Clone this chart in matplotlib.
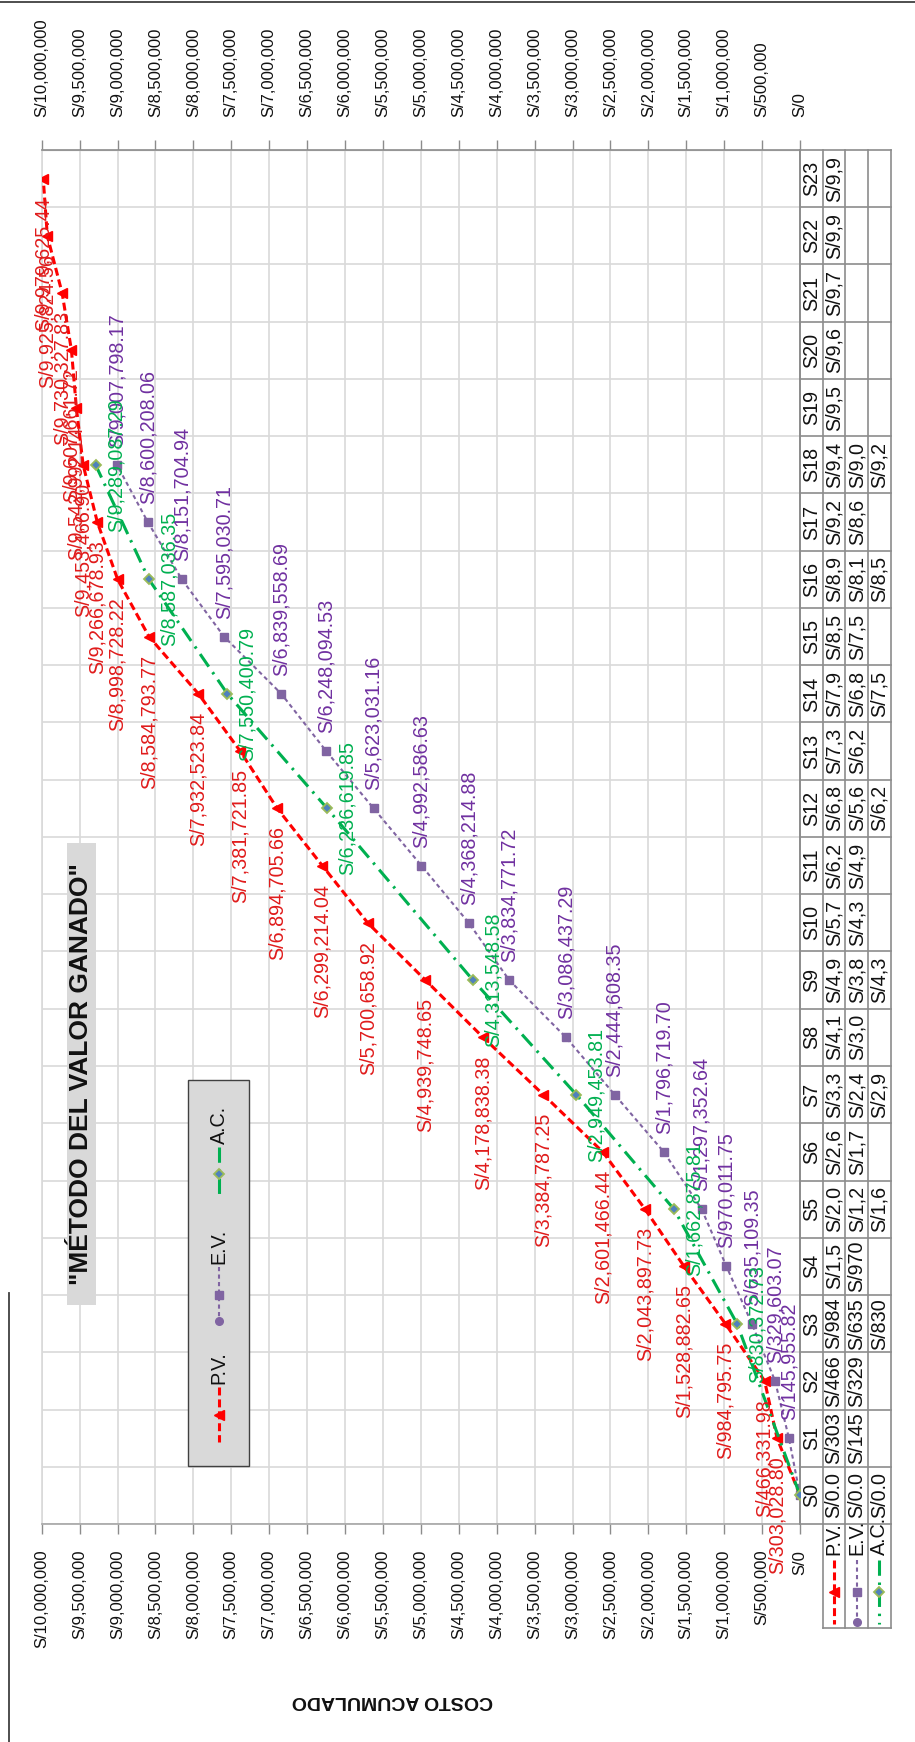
import numpy as np
import matplotlib
matplotlib.use("Agg")
import matplotlib.pyplot as plt
import matplotlib.transforms as mtransforms
from matplotlib.patches import Rectangle
from matplotlib.lines import Line2D

plt.rcParams['font.family'] = ['Liberation Sans', 'DejaVu Sans']

# ---------------------------------------------------------------- data
weeks = [f"S{i}" for i in range(24)]
pv = [0.00, 303028.80, 466331.98, 984795.75, 1528882.65, 2043897.73,
      2601466.44, 3384787.25, 4178838.38, 4939748.65, 5700658.92,
      6299214.04, 6894705.66, 7381721.85, 7932523.84, 8584793.77,
      8998728.22, 9266678.93, 9453466.90, 9542992.14, 9607661.72,
      9730327.83, 9925824.56, 9979625.44]
ev = [0.00, 145955.82, 329603.07, 635109.35, 970011.75, 1297352.64,
      1796719.70, 2444608.35, 3086437.29, 3834771.72, 4368214.88,
      4992586.63, 5623031.16, 6248094.53, 6839558.69, 7595030.71,
      8151704.94, 8600208.06, 9007798.17]
ac_weeks = [0, 3, 5, 7, 9, 12, 14, 16, 18]
ac = [0.00, 830372.73, 1662875.81, 2949453.81, 4313548.58, 6236619.85,
      7550400.79, 8587036.35, 9289087.29]
series_names = ["P.V.", "E.V.", "A.C."]
value_ticks = list(range(0, 10_000_001, 500_000))
value_labels = [f"S/{v:,.0f}" for v in value_ticks]
axis_title = "COSTO ACUMULADO"
chart_title = '"MÉTODO DEL VALOR GANADO"'

# ---------------------------------------------------------------- styles
W, H, DPI = 915, 1742, 100
PV_C, EV_C, AC_C = "#ff0000", "#8064a2", "#00b050"
PV_T, EV_T, AC_T = "#e01b1b", "#7030a0", "#00b050"
FS = 14.2          # data labels, table, legend
FS_TICK = 12.0     # value axis labels
GRID = "#d9d9d9"
TABLE = "#8c8c8c"

pv_style = dict(color=PV_C, lw=2.2, dashes=(2.6, 1.3), marker="<", ms=6.5,
                mfc=PV_C, mec=PV_C)
ev_style = dict(color=EV_C, lw=1.5, dashes=(2.0, 1.6), marker="s", ms=5.5,
                mfc=EV_C, mec=EV_C)
ac_style = dict(color=AC_C, lw=2.2, dashes=(5.0, 2.2, 0.8, 2.2), marker="D",
                ms=5.2, mfc="#4f81bd", mec="#9bbb59", mew=1.3)


def fx(x):
    return x / W


def fy(y):
    return 1 - y / H


fig = plt.figure(figsize=(W / DPI, H / DPI), dpi=DPI)

# plot area in pixel units (values run right-to-left, weeks bottom-to-top)
L, R, T, B = 41.7, 800.0, 150.0, 1524.0
ax = fig.add_axes([fx(L), fy(B), (R - L) / W, (B - T) / H])
ax.set_xlim(10_000_000, 0)
ax.set_ylim(-0.5, len(weeks) - 0.5)
ax.set_axisbelow(True)

# value gridlines + category band lines
ax.set_xticks(value_ticks)
ax.set_xticklabels(value_labels, rotation=90)
ax.grid(axis="x", which="major", color=GRID, lw=1.2)
ax.set_yticks(np.arange(-0.5, len(weeks), 1.0), minor=True)
ax.set_yticks([])
ax.grid(axis="y", which="minor", color=GRID, lw=1.2)
ax.tick_params(axis="y", which="both", length=0, labelleft=False)
ax.tick_params(axis="x", which="major", length=7, width=1, color="#8c8c8c",
               pad=11.5, labelsize=FS_TICK, labelcolor="#111111")

sec = ax.secondary_xaxis("top")
sec.set_xticks(value_ticks)
sec.set_xticklabels(value_labels, rotation=90)
sec.tick_params(axis="x", length=7, width=1, color="#8c8c8c", pad=16.5,
                labelsize=FS_TICK, labelcolor="#111111")
sec.spines["top"].set_color("#8c8c8c")

for side, col in [("top", "#8c8c8c"), ("bottom", "#a6a6a6"),
                  ("left", GRID), ("right", TABLE)]:
    ax.spines[side].set_color(col)
    ax.spines[side].set_linewidth(1.2)

# ---------------------------------------------------------------- series
ax.plot(pv, range(len(pv)), zorder=4, **pv_style)
ax.plot(ev, range(len(ev)), zorder=4, **ev_style)
ax.plot(ac, ac_weeks, zorder=5, **ac_style)

for i, v in enumerate(pv):
    if i == 0:
        continue
    ax.annotate(f"S/{v:,.2f}", (v, i), xytext=(0, -13), textcoords="offset points",
                rotation=90, ha="center", va="top", color=PV_T, fontsize=FS,
                zorder=6, annotation_clip=False)
for i, v in enumerate(ev):
    if i == 0:
        continue
    ax.annotate(f"S/{v:,.2f}", (v, i), xytext=(0, 13), textcoords="offset points",
                rotation=90, ha="center", va="bottom", color=EV_T, fontsize=FS,
                zorder=6, annotation_clip=False)
for w, v in zip(ac_weeks, ac):
    if w == 0:
        continue
    ax.annotate(f"S/{v:,.2f}", (v, w), xytext=(14.5, 0), textcoords="offset points",
                rotation=90, ha="center", va="center", color=AC_T, fontsize=FS,
                zorder=6, annotation_clip=False)

# ---------------------------------------------------------------- data table
tbl = mtransforms.blended_transform_factory(ax.transAxes, ax.transData)
col_px = [800.0, 822.7, 845.3, 868.0, 890.7]
col_ax = [(c - L) / (R - L) for c in col_px]
n = len(weeks)
for c in col_ax:
    ax.add_line(Line2D([c, c], [-0.5, n - 0.5], transform=tbl, color=TABLE,
                       lw=1.2, clip_on=False, zorder=3))
for k in range(n + 1):
    ax.add_line(Line2D([col_ax[0], col_ax[-1]], [k - 0.5, k - 0.5], transform=tbl,
                       color=TABLE, lw=1.2, clip_on=False, zorder=3))


def cell(text, col, row):
    xc = (col_ax[col] + col_ax[col + 1]) / 2
    ax.text(xc, row, text, transform=tbl, rotation=90, ha="center", va="center",
            fontsize=FS, color="#111111", clip_on=False)


for i, w in enumerate(weeks):
    cell(w, 0, i)
for i, v in enumerate(pv):
    cell(f"S/{v:,.2f}"[:5], 1, i)
for i, v in enumerate(ev):
    cell(f"S/{v:,.2f}"[:5], 2, i)
for w, v in zip(ac_weeks, ac):
    cell(f"S/{v:,.2f}"[:5], 3, w)

# legend keys under the table
key_top, key_bot = 1524.0, 1628.0
for xp in col_px[1:]:
    fig.add_artist(Line2D([fx(xp), fx(xp)], [fy(key_top), fy(key_bot)],
                          transform=fig.transFigure, color=TABLE, lw=1.2))
fig.add_artist(Line2D([fx(col_px[1]), fx(col_px[-1])], [fy(key_bot), fy(key_bot)],
                      transform=fig.transFigure, color=TABLE, lw=1.2))


def legend_key(xc, y_text, y0, y1, name, style, oval=False, z=2):
    st = dict(style)
    marker = st.pop("marker")
    ms = st.pop("ms")
    mfc = st.pop("mfc")
    mec = st.pop("mec")
    mew = st.pop("mew", 1.0)
    fig.add_artist(Line2D([fx(xc), fx(xc)], [fy(y0), fy(y1)],
                          transform=fig.transFigure, zorder=z, **st))
    ym = (y0 + y1) / 2
    fig.add_artist(Line2D([fx(xc)], [fy(ym)], transform=fig.transFigure, zorder=z,
                          ls="none", marker=marker, ms=ms, mfc=mfc, mec=mec, mew=mew))
    if oval:
        fig.add_artist(Line2D([fx(xc)], [fy(y1 - 2)], transform=fig.transFigure,
                              zorder=z, ls="none", marker="o", ms=5.5,
                              mfc=st["color"], mec=st["color"]))
    fig.text(fx(xc), fy(y_text), name, rotation=90, ha="center", va="bottom",
             fontsize=FS, color="#111111", zorder=z + 1)


styles = [pv_style, ev_style, ac_style]
for j, (name, st) in enumerate(zip(series_names, styles)):
    xc = (col_px[j + 1] + col_px[j + 2]) / 2
    legend_key(xc, 1555, 1560, 1624, name, st, oval=(j == 1))

# ---------------------------------------------------------------- legend box
fig.add_artist(Rectangle((fx(188), fy(1466)), fx(249) - fx(188), fy(1080) - fy(1466),
                         transform=fig.transFigure, facecolor="#d9d9d9",
                         edgecolor="#404040", lw=1.0, zorder=7))
legend_rows = [(1384, 1387, 1442), (1264, 1267, 1323), (1144, 1147, 1200)]
for (yt, y0, y1), name, st, oval in zip(legend_rows, series_names, styles,
                                        [False, True, False]):
    legend_key(219, yt, y0, y1, name, st, oval=oval, z=8)

# ---------------------------------------------------------------- titles
fig.add_artist(Rectangle((fx(66.7), fy(1305)), fx(96) - fx(66.7), fy(843) - fy(1305),
                         transform=fig.transFigure, facecolor="#d9d9d9",
                         edgecolor="none", zorder=7))
fig.text(fx(81.5), fy(1074), chart_title, rotation=90, ha="center", va="center",
         fontsize=19, fontweight="bold", color="#111111", zorder=9)
fig.text(fx(392), fy(1700), axis_title, rotation=180, ha="center", va="center",
         fontsize=14, fontweight="bold", color="#111111",
         family=["Liberation Sans Narrow", "Liberation Sans", "DejaVu Sans"])

# outer frame
fig.add_artist(Line2D([0, 1], [fy(2), fy(2)], transform=fig.transFigure,
                      color="#404040", lw=1.3))
fig.add_artist(Line2D([fx(9), fx(9)], [fy(1293), 0], transform=fig.transFigure,
                      color="#404040", lw=1.3))

fig.savefig("out.png", dpi=DPI)
